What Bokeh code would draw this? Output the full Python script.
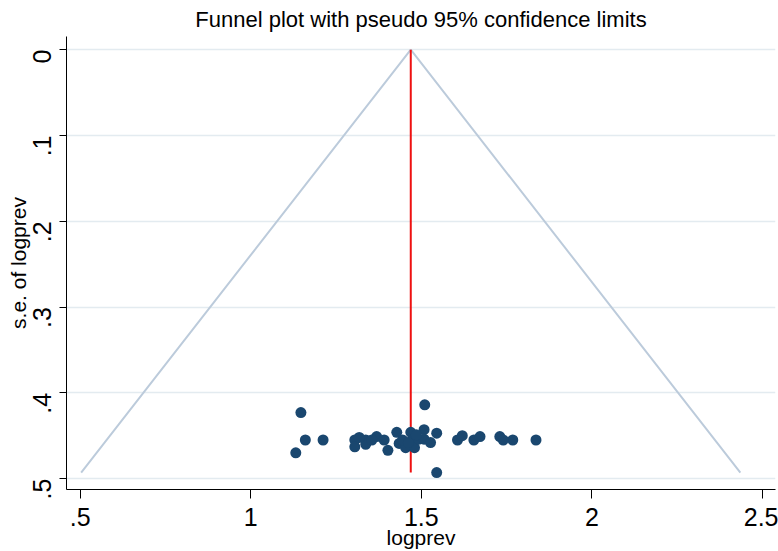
import math
from bokeh.plotting import figure
from bokeh.models import Range1d, FixedTicker
from bokeh.embed import file_html
from bokeh.resources import INLINE

# ---- data ----
logprev = [1.147, 1.510, 1.160, 1.212, 1.132, 1.545, 1.836, 1.768, 1.606, 1.620,
           1.654, 1.672, 1.730, 1.740, 1.305, 1.305, 1.337, 1.337, 1.369, 1.391,
           1.402, 1.428, 1.435, 1.454, 1.469, 1.474, 1.480, 1.493, 1.508, 1.508,
           1.527, 1.545, 1.318, 1.355, 1.445, 1.462, 1.485]
se_logprev = [0.423, 0.414, 0.455, 0.455, 0.470, 0.493, 0.455, 0.455, 0.455, 0.450,
              0.455, 0.451, 0.451, 0.455, 0.455, 0.463, 0.455, 0.460, 0.451, 0.455,
              0.467, 0.446, 0.459, 0.464, 0.446, 0.455, 0.464, 0.454, 0.443, 0.454,
              0.458, 0.447, 0.452, 0.455, 0.455, 0.458, 0.449]

pooled_x = [1.469, 1.469]
pooled_se = [0.0, 0.493]

funnel_x = [0.503, 1.469, 2.435]
funnel_se = [0.493, 0.0, 0.493]

x_ticks = [0.5, 1.0, 1.5, 2.0, 2.5]
x_tick_labels = [".5", "1", "1.5", "2", "2.5"]
y_ticks = [0.0, 0.1, 0.2, 0.3, 0.4, 0.5]
y_tick_labels = ["0", ".1", ".2", ".3", ".4", ".5"]

FONT = "Liberation Sans"

p = figure(width=778, height=551, output_backend="svg", toolbar_location=None,
           x_range=Range1d(0.460, 2.538), y_range=Range1d(0.5127, -0.0154),
           min_border_left=66, min_border_right=3, min_border_top=36, min_border_bottom=58,
           title="Funnel plot with pseudo 95% confidence limits")

p.title.align = "center"
p.title.offset = -3
p.title.text_font = FONT
p.title.text_font_size = "22px"
p.title.text_font_style = "normal"
p.title.text_color = "black"
p.title.standoff = 9

p.outline_line_color = None
p.background_fill_color = "white"
p.border_fill_color = "white"

# grid
p.xgrid.visible = False
p.ygrid.ticker = FixedTicker(ticks=y_ticks)
p.ygrid.grid_line_color = "#e3ebf0"
p.ygrid.grid_line_width = 1.5

# axes
p.xaxis.ticker = FixedTicker(ticks=x_ticks)
p.xaxis.major_label_overrides = dict(zip(x_ticks, x_tick_labels))
p.yaxis.ticker = FixedTicker(ticks=y_ticks)
p.yaxis.major_label_overrides = dict(zip(y_ticks, y_tick_labels))
p.yaxis.major_label_orientation = math.pi / 2

for ax in (p.xaxis[0], p.yaxis[0]):
    ax.axis_line_color = "black"
    ax.axis_line_width = 1
    ax.major_tick_line_color = "black"
    ax.major_tick_in = 0
    ax.minor_tick_line_color = None
    ax.major_label_text_font = FONT
    ax.major_label_text_font_size = "25px"
    ax.major_label_text_color = "black"
    ax.axis_label_text_font = FONT
    ax.axis_label_text_font_size = "21px"
    ax.axis_label_text_font_style = "normal"
    ax.axis_label_text_color = "black"

p.xaxis.major_tick_out = 9
p.yaxis.major_tick_out = 7
p.xaxis.axis_label = "logprev"
p.yaxis.axis_label = "s.e. of logprev"
p.xaxis.major_label_standoff = 9
p.yaxis.major_label_standoff = 17
p.xaxis.axis_label_standoff = -3
p.yaxis.axis_label_standoff = -8

# funnel limits
p.line(funnel_x, funnel_se, line_color="#bccbdb", line_width=2)
# pooled estimate
p.line(pooled_x, pooled_se, line_color="#ee1111", line_width=2)
# studies
p.scatter(logprev, se_logprev, size=11, fill_color="#1a476f", line_color="#1a476f", line_width=0)

open("out.html", "w").write(file_html(p, INLINE))
